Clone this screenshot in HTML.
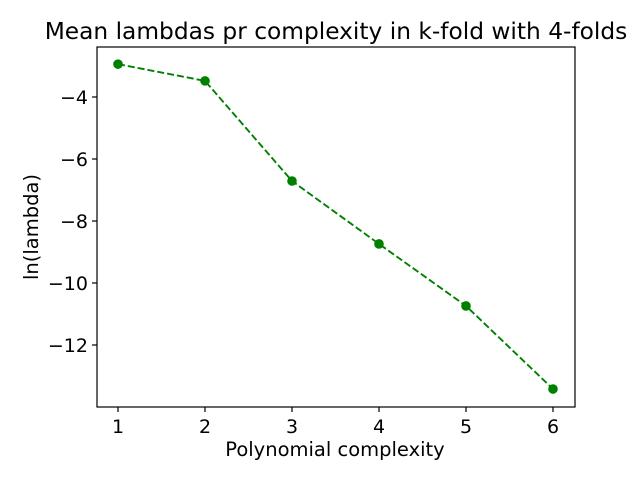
<!DOCTYPE html>
<html><head><meta charset="utf-8"><style>
html,body{margin:0;padding:0;background:#fff;}
svg text{font-family:"DejaVu Sans","Liberation Sans",sans-serif;fill:#000;}
</style></head><body>
<svg id="chart" width="640" height="480" xmlns="http://www.w3.org/2000/svg">
<rect width="640" height="480" fill="#fff"/>
<text x="336" y="39" font-size="23.3" text-anchor="middle">Mean lambdas pr complexity in k-fold with 4-folds</text>
<g id="axes"></g>
<text x="335" y="456" font-size="19.5" text-anchor="middle">Polynomial complexity</text>
<text transform="translate(38,227) rotate(-90)" font-size="19.5" text-anchor="middle">ln(lambda)</text>
</svg>
<script>
const categories=[1,2,3,4,5,6];
const values=[-2.94,-3.48,-6.71,-8.74,-10.74,-13.42];
const xTicks=[1,2,3,4,5,6];
const yTicks=[-4,-6,-8,-10,-12];
const L=97,R=575,T=47,B=407;
function xs(v){return 118+(v-1)*87;}
function ys(v){return 97-(v+4)*31;}
const ns="http://www.w3.org/2000/svg";
const g=document.getElementById('axes');
function mk(t,a){const e=document.createElementNS(ns,t);for(const k in a)e.setAttribute(k,a[k]);g.appendChild(e);return e;}
xTicks.forEach(v=>{
 const l=mk('line',{x1:xs(v),x2:xs(v),y1:B,y2:B+5,stroke:'#000','stroke-width':1.2});
 
 
 const t=mk('text',{x:xs(v),y:B+26,'font-size':19,'text-anchor':'middle'});t.textContent=v;
 
 
});
yTicks.forEach(v=>{
 const l=mk('line',{x1:L-5,x2:L,y1:ys(v),y2:ys(v),stroke:'#000','stroke-width':1.2});
 
 
 const t=mk('text',{x:L-9,y:ys(v)+7,'font-size':19,'text-anchor':'end'});t.textContent='\u2212'+Math.abs(v);
 
 
});
const pts=categories.map((c,i)=>xs(c)+','+ys(values[i])).join(' ');
const pl=mk('polyline',{points:pts,fill:'none',stroke:'#008000','stroke-width':1.9,'stroke-dasharray':'7,3'});


categories.forEach((c,i)=>{
 const p=mk('circle',{cx:xs(c),cy:ys(values[i]),r:4.8,fill:'#008000'});
 
 
});
const f=mk('rect',{x:L,y:T,width:R-L,height:B-T,fill:'none',stroke:'#000','stroke-width':1.2});


</script>
</body></html>
